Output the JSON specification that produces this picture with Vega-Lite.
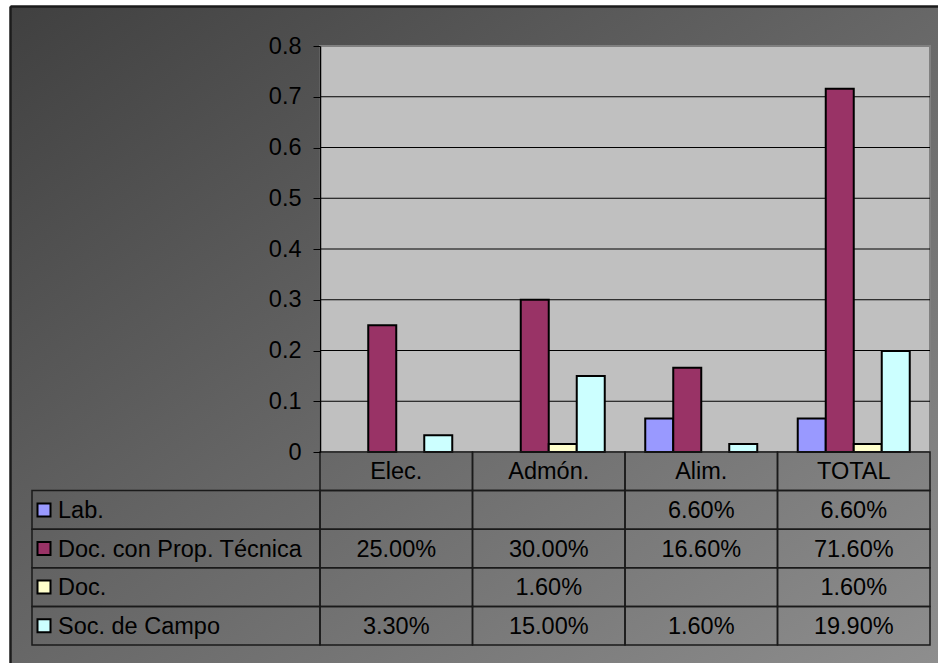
{
  "$schema": "https://vega.github.io/schema/vega-lite/v6.json",
  "width": 928,
  "height": 657,
  "autosize": {"type": "none"},
  "padding": {"left": 10, "top": 6, "right": 0, "bottom": 0},
  "background": "#ffffff",
  "view": {
    "fill": {
      "gradient": "linear",
      "x1": 0, "y1": 0, "x2": 1, "y2": 1,
      "stops": [
        {"offset": 0, "color": "#404040"},
        {"offset": 1, "color": "#8e8e8e"}
      ]
    },
    "stroke": null
  },
  "config": {
    "font": "Liberation Sans",
    "text": {"font": "Liberation Sans", "fontSize": 23.5, "color": "#000000"}
  },
  "datasets": {
    "shares": [
      {"cat": "Elec.", "series": "Lab.", "value": null},
      {"cat": "Elec.", "series": "Doc. con Prop. Técnica", "value": 0.25},
      {"cat": "Elec.", "series": "Doc.", "value": null},
      {"cat": "Elec.", "series": "Soc. de Campo", "value": 0.033},
      {"cat": "Admón.", "series": "Lab.", "value": null},
      {"cat": "Admón.", "series": "Doc. con Prop. Técnica", "value": 0.30},
      {"cat": "Admón.", "series": "Doc.", "value": 0.016},
      {"cat": "Admón.", "series": "Soc. de Campo", "value": 0.15},
      {"cat": "Alim.", "series": "Lab.", "value": 0.066},
      {"cat": "Alim.", "series": "Doc. con Prop. Técnica", "value": 0.166},
      {"cat": "Alim.", "series": "Doc.", "value": null},
      {"cat": "Alim.", "series": "Soc. de Campo", "value": 0.016},
      {"cat": "TOTAL", "series": "Lab.", "value": 0.066},
      {"cat": "TOTAL", "series": "Doc. con Prop. Técnica", "value": 0.716},
      {"cat": "TOTAL", "series": "Doc.", "value": 0.016},
      {"cat": "TOTAL", "series": "Soc. de Campo", "value": 0.199}
    ],
    "grid": [
      {"tick": 0.1}, {"tick": 0.2}, {"tick": 0.3}, {"tick": 0.4},
      {"tick": 0.5}, {"tick": 0.6}, {"tick": 0.7}
    ]
  },
  "resolve": {"scale": {"x": "independent", "y": "independent"}},
  "layer": [
    {
      "description": "outer frame: top and left edges drawn as axis domains",
      "data": {"values": [{"area": "frame"}]},
      "mark": {"type": "rect", "opacity": 0},
      "encoding": {
        "x": {"datum": 0, "type": "quantitative", "scale": {"domain": [0, 1], "nice": false, "zero": false},
              "axis": {"orient": "top", "title": null, "labels": false, "ticks": false, "grid": false, "domainColor": "#1c1c1c", "domainWidth": 2.5}},
        "x2": {"datum": 1},
        "y": {"datum": 0, "type": "quantitative", "scale": {"domain": [0, 1], "nice": false, "zero": false},
              "axis": {"orient": "left", "title": null, "labels": false, "ticks": false, "grid": false, "domainColor": "#1c1c1c", "domainWidth": 2.5}},
        "y2": {"datum": 1}
      }
    },
    {
      "description": "plot area background",
      "data": {"values": [{"area": "plot"}]},
      "mark": {"type": "rect", "fill": "#c0c0c0", "stroke": "#808080", "strokeWidth": 2},
      "encoding": {
        "x": {"datum": 0, "type": "quantitative", "scale": {"domain": [0, 1], "range": [310, 920], "nice": false, "zero": false}, "axis": null},
        "x2": {"datum": 1},
        "y": {"datum": 0, "type": "quantitative", "scale": {"domain": [0, 0.8], "range": [446, 40], "nice": false}, "axis": null},
        "y2": {"datum": 0.8}
      }
    },
    {
      "description": "horizontal gridlines",
      "data": {"name": "grid"},
      "mark": {"type": "rule", "stroke": "#000000", "strokeWidth": 1},
      "encoding": {
        "x": {"datum": 0, "type": "quantitative", "scale": {"domain": [0, 1], "range": [310, 920], "nice": false, "zero": false}, "axis": null},
        "x2": {"datum": 1},
        "y": {"field": "tick", "type": "quantitative", "scale": {"domain": [0, 0.8], "range": [446, 40], "nice": false}, "axis": null}
      }
    },
    {
      "description": "grouped bars",
      "data": {"name": "shares"},
      "transform": [{"filter": "datum.value != null"}],
      "mark": {"type": "bar", "stroke": "#000000", "strokeWidth": 2},
      "encoding": {
        "x": {
          "field": "cat", "type": "nominal", "sort": null,
          "scale": {"domain": ["Elec.", "Admón.", "Alim.", "TOTAL"], "range": [310, 920], "paddingInner": 0, "paddingOuter": 0},
          "axis": null
        },
        "xOffset": {
          "field": "series", "type": "nominal",
          "scale": {"domain": ["Lab.", "Doc. con Prop. Técnica", "Doc.", "Soc. de Campo"], "paddingInner": 0, "paddingOuter": 0.723}
        },
        "y": {
          "field": "value", "type": "quantitative",
          "scale": {"domain": [0, 0.8], "range": [446, 40], "nice": false},
          "axis": {
            "orient": "left", "offset": -310, "title": null,
            "values": [0, 0.1, 0.2, 0.3, 0.4, 0.5, 0.6, 0.7, 0.8],
            "format": ".1~f", "grid": false,
            "domainColor": "#000000", "domainWidth": 1.5,
            "tickColor": "#000000", "tickSize": 7, "tickWidth": 1,
            "labelPadding": 12, "labelFont": "Liberation Sans", "labelFontSize": 23.5,
            "labelColor": "#000000", "zindex": 1
          }
        },
        "fill": {
          "field": "series", "type": "nominal",
          "scale": {"domain": ["Lab.", "Doc. con Prop. Técnica", "Doc.", "Soc. de Campo"], "range": ["#9999ff", "#993366", "#ffffcc", "#ccffff"]},
          "legend": null
        }
      }
    },
    {
      "description": "data table header cells",
      "data": {"name": "shares"},
      "transform": [{"filter": "datum.series == 'Lab.'"}],
      "mark": {"type": "rect", "fill": "transparent", "stroke": "#1a1a1a", "strokeWidth": 1.5},
      "encoding": {
        "x": {"field": "cat", "type": "nominal", "sort": null, "scale": {"domain": ["Elec.", "Admón.", "Alim.", "TOTAL"], "range": [310, 920], "paddingInner": 0, "paddingOuter": 0}, "axis": null},
        "y": {"datum": "header", "type": "nominal", "scale": {"domain": ["header", "Lab.", "Doc. con Prop. Técnica", "Doc.", "Soc. de Campo"], "range": [446, 639], "paddingInner": 0, "paddingOuter": 0}, "axis": null}
      }
    },
    {
      "description": "data table header labels",
      "data": {"name": "shares"},
      "transform": [{"filter": "datum.series == 'Lab.'"}],
      "mark": {"type": "text", "fontSize": 23.5, "align": "center", "baseline": "middle", "dy": 1},
      "encoding": {
        "x": {"field": "cat", "type": "nominal", "sort": null, "scale": {"domain": ["Elec.", "Admón.", "Alim.", "TOTAL"], "range": [310, 920], "paddingInner": 0, "paddingOuter": 0}, "axis": null},
        "y": {"datum": "header", "type": "nominal", "scale": {"domain": ["header", "Lab.", "Doc. con Prop. Técnica", "Doc.", "Soc. de Campo"], "range": [446, 639], "paddingInner": 0, "paddingOuter": 0}, "axis": null},
        "text": {"field": "cat", "type": "nominal"}
      }
    },
    {
      "description": "data table value cells",
      "data": {"name": "shares"},
      "mark": {"type": "rect", "fill": "transparent", "stroke": "#1a1a1a", "strokeWidth": 1.5},
      "encoding": {
        "x": {"field": "cat", "type": "nominal", "sort": null, "scale": {"domain": ["Elec.", "Admón.", "Alim.", "TOTAL"], "range": [310, 920], "paddingInner": 0, "paddingOuter": 0}, "axis": null},
        "y": {"field": "series", "type": "nominal", "scale": {"domain": ["header", "Lab.", "Doc. con Prop. Técnica", "Doc.", "Soc. de Campo"], "range": [446, 639], "paddingInner": 0, "paddingOuter": 0}, "axis": null}
      }
    },
    {
      "description": "data table values",
      "data": {"name": "shares"},
      "transform": [{"filter": "datum.value != null"}],
      "mark": {"type": "text", "fontSize": 23.5, "align": "center", "baseline": "middle", "dy": 1},
      "encoding": {
        "x": {"field": "cat", "type": "nominal", "sort": null, "scale": {"domain": ["Elec.", "Admón.", "Alim.", "TOTAL"], "range": [310, 920], "paddingInner": 0, "paddingOuter": 0}, "axis": null},
        "y": {"field": "series", "type": "nominal", "scale": {"domain": ["header", "Lab.", "Doc. con Prop. Técnica", "Doc.", "Soc. de Campo"], "range": [446, 639], "paddingInner": 0, "paddingOuter": 0}, "axis": null},
        "text": {"field": "value", "type": "quantitative", "format": ".2%"}
      }
    },
    {
      "description": "legend column cells",
      "data": {"name": "shares"},
      "transform": [{"filter": "datum.cat == 'Elec.'"}],
      "mark": {"type": "rect", "fill": "transparent", "stroke": "#1a1a1a", "strokeWidth": 1.5},
      "encoding": {
        "x": {"datum": 0, "type": "quantitative", "scale": {"domain": [0, 1], "range": [22, 310], "nice": false, "zero": false}, "axis": null},
        "x2": {"datum": 1},
        "y": {"field": "series", "type": "nominal", "scale": {"domain": ["header", "Lab.", "Doc. con Prop. Técnica", "Doc.", "Soc. de Campo"], "range": [446, 639], "paddingInner": 0, "paddingOuter": 0}, "axis": null}
      }
    },
    {
      "description": "legend swatches",
      "data": {"name": "shares"},
      "transform": [{"filter": "datum.cat == 'Elec.'"}],
      "mark": {"type": "point", "shape": "square", "size": 169, "filled": true, "stroke": "#000000", "strokeWidth": 2, "opacity": 1, "xOffset": 12},
      "encoding": {
        "x": {"datum": 0, "type": "quantitative", "scale": {"domain": [0, 1], "range": [22, 310], "nice": false, "zero": false}, "axis": null},
        "y": {"field": "series", "type": "nominal", "scale": {"domain": ["header", "Lab.", "Doc. con Prop. Técnica", "Doc.", "Soc. de Campo"], "range": [446, 639], "paddingInner": 0, "paddingOuter": 0}, "axis": null},
        "fill": {
          "field": "series", "type": "nominal",
          "scale": {"domain": ["Lab.", "Doc. con Prop. Técnica", "Doc.", "Soc. de Campo"], "range": ["#9999ff", "#993366", "#ffffcc", "#ccffff"]},
          "legend": null
        }
      }
    },
    {
      "description": "legend labels",
      "data": {"name": "shares"},
      "transform": [{"filter": "datum.cat == 'Elec.'"}],
      "mark": {"type": "text", "fontSize": 23.5, "align": "left", "baseline": "middle", "dx": 26, "dy": 1},
      "encoding": {
        "x": {"datum": 0, "type": "quantitative", "scale": {"domain": [0, 1], "range": [22, 310], "nice": false, "zero": false}, "axis": null},
        "y": {"field": "series", "type": "nominal", "scale": {"domain": ["header", "Lab.", "Doc. con Prop. Técnica", "Doc.", "Soc. de Campo"], "range": [446, 639], "paddingInner": 0, "paddingOuter": 0}, "axis": null},
        "text": {"field": "series", "type": "nominal"}
      }
    }
  ]
}
